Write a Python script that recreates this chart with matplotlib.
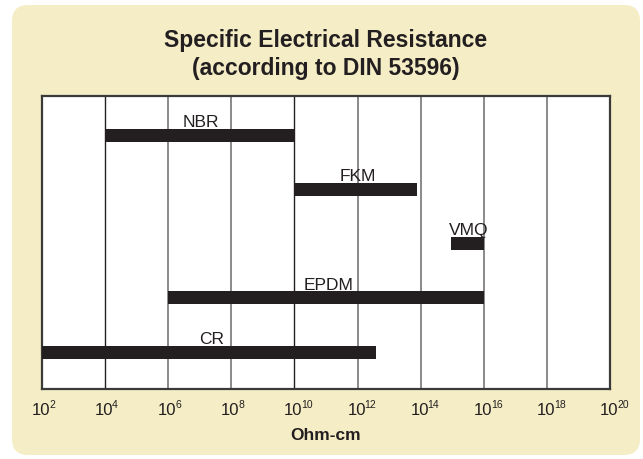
import math
import matplotlib
matplotlib.use("Agg")
import matplotlib.pyplot as plt
from matplotlib.patches import FancyBboxPatch
from matplotlib.ticker import FixedLocator, NullFormatter
from matplotlib.transforms import blended_transform_factory, offset_copy

# ---- data ----
materials = ["NBR", "FKM", "VMQ", "EPDM", "CR"]
low_exp = [4, 10, 14.95, 6, 2]          # log10 of lower bound (Ohm-cm)
high_exp = [10, 13.87, 16, 16, 12.6]    # log10 of upper bound (Ohm-cm)
label_exp = [7.03, 12.0, 15.53, 11.09, 7.38]  # label centre (log10)
tick_exp = [2, 4, 6, 8, 10, 12, 14, 16, 18, 20]
dark_grid_exp = [4, 10]

title1 = "Specific Electrical Resistance"
title2 = "(according to DIN 53596)"
xlabel = "Ohm-cm"

plt.rcParams['font.family'] = ['Liberation Sans', 'DejaVu Sans']

W, H = 643, 459
fig = plt.figure(figsize=(W / 100, H / 100), dpi=100, facecolor='white')

# beige rounded background
bg = FancyBboxPatch((12 / W, (H - 455) / H), (640 - 12) / W, (455 - 5) / H,
                    boxstyle="round,pad=0,rounding_size=0.025",
                    transform=fig.transFigure, facecolor='#F4EDC5',
                    edgecolor='none', zorder=-10, mutation_aspect=W / H)
fig.patches.append(bg)

left, right, top, bottom = 42, 610, 96, 389
ax = fig.add_axes([left / W, 1 - bottom / H, (right - left) / W, (bottom - top) / H])
ax.set_zorder(1)
ax.set_facecolor('white')
ax.set_xscale('log')
ax.set_xlim(10.0 ** 2, 10.0 ** 20)

ypos = list(range(len(materials)))
ax.set_ylim(4.68, -0.72)

bar_h = 0.24
text_color = '#231f20'
for y, lo, hi, lx, name in zip(ypos, low_exp, high_exp, label_exp, materials):
    ax.barh(y, 10.0 ** hi - 10.0 ** lo, left=10.0 ** lo, height=bar_h,
            color=text_color, zorder=3)
    ax.annotate(name, xy=(10.0 ** lx, y - bar_h / 2), xytext=(0, 1.6),
                textcoords='offset pixels', ha='center', va='baseline',
                fontsize=12.5, color=text_color, zorder=4)

# vertical grid lines
for e in tick_exp[1:-1]:
    if e in dark_grid_exp:
        ax.axvline(10.0 ** e, color=text_color, lw=1.0, zorder=1)
    else:
        ax.axvline(10.0 ** e, color='#8a8a8a', lw=1.4, zorder=1)

ax.xaxis.set_major_locator(FixedLocator([10.0 ** e for e in tick_exp]))
ax.xaxis.set_minor_locator(FixedLocator([]))
ax.xaxis.set_major_formatter(NullFormatter())
ax.tick_params(axis='x', length=0)
ax.set_yticks([])
for s in ax.spines.values():
    s.set_color('#3a3a3a')
    s.set_linewidth(1.6)

# tick labels: "10" centred on the tick with a small raised exponent
trans = blended_transform_factory(ax.transData, ax.transAxes)
for e in tick_exp:
    base_t = offset_copy(trans, fig=fig, x=-1, y=-26, units='dots')
    ax.text(10.0 ** e, 0, "10", transform=base_t, ha='center', va='baseline',
            fontsize=12, color=text_color, clip_on=False)
    exp_t = offset_copy(trans, fig=fig, x=7, y=-19, units='dots')
    ax.text(10.0 ** e, 0, str(e), transform=exp_t, ha='left', va='baseline',
            fontsize=7.5, color=text_color, clip_on=False)

fig.text(326 / W, 1 - 47 / H, title1, ha='center', va='baseline',
         fontsize=16.5, fontweight='bold', color=text_color)
fig.text(326 / W, 1 - 75 / H, title2, ha='center', va='baseline',
         fontsize=16.5, fontweight='bold', color=text_color)
fig.text(326 / W, 1 - 440 / H, xlabel, ha='center', va='baseline',
         fontsize=12.5, fontweight='bold', color=text_color)

fig.savefig('out.png', dpi=100, facecolor=fig.get_facecolor())
